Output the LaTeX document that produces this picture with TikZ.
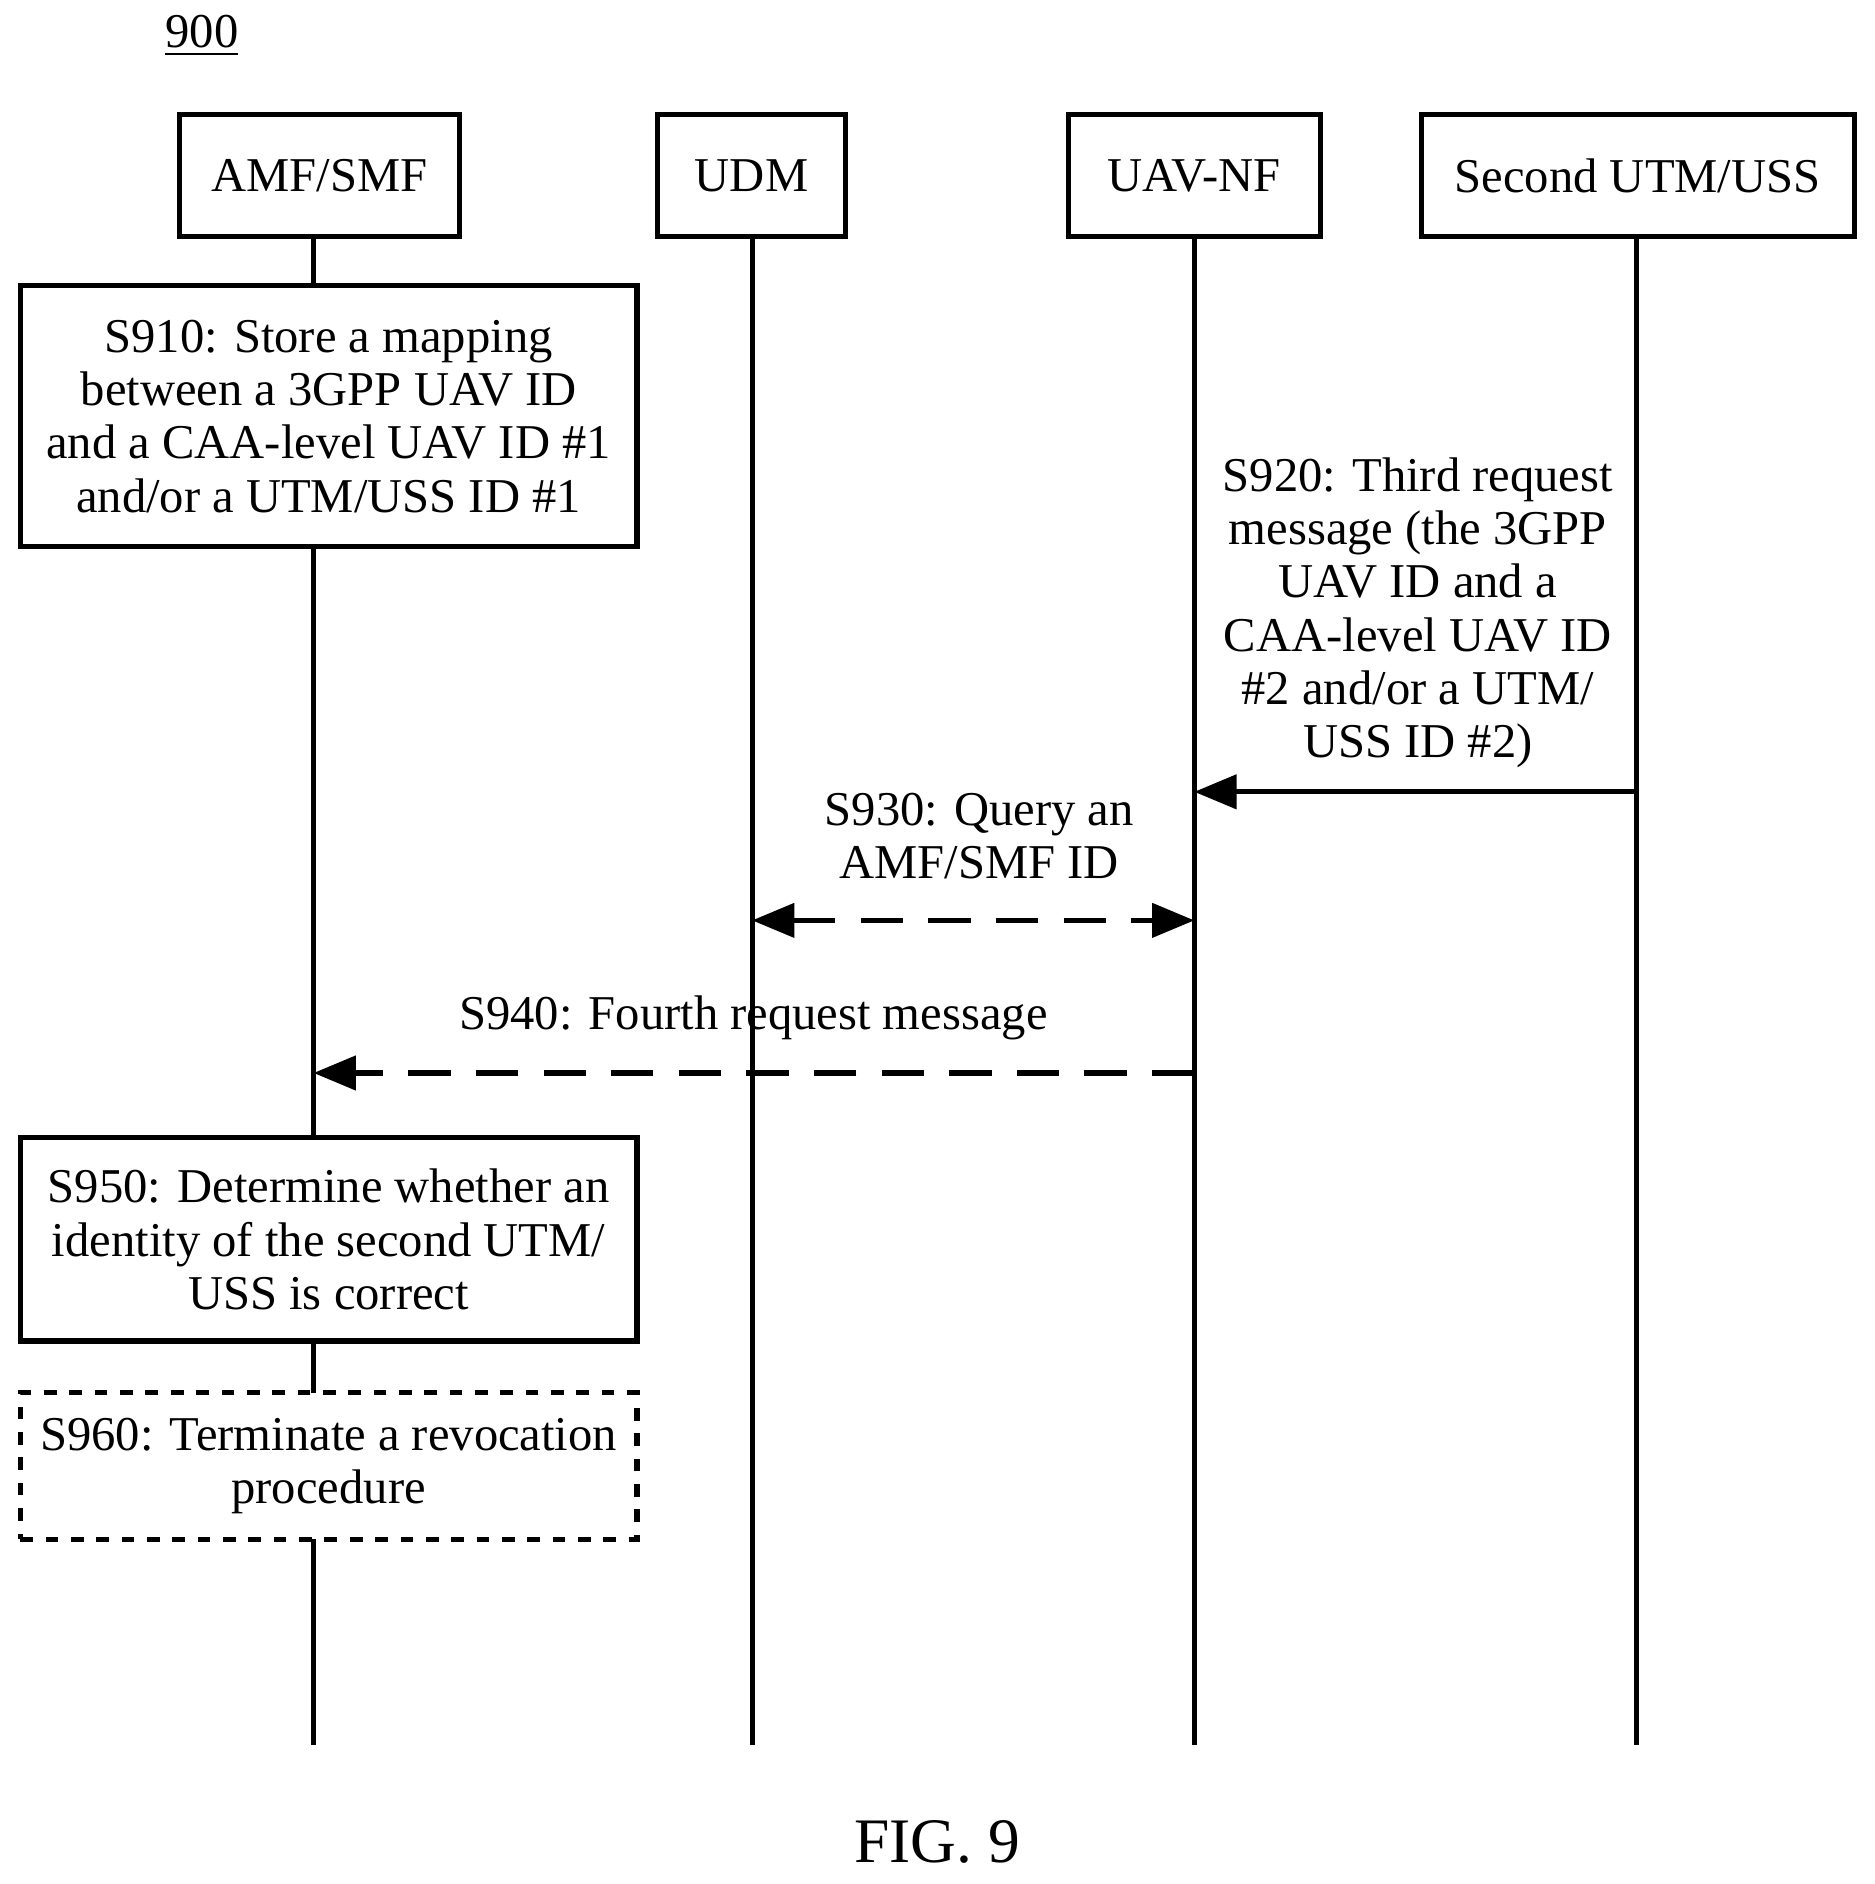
\documentclass[tikz,border=0pt]{standalone}
\usepackage{fontspec}
\setmainfont{Liberation Serif}
\usetikzlibrary{arrows.meta}

\tikzset{
  ent/.style={draw, line width=1.2pt, fill=white, minimum height=1.02cm, inner sep=0pt},
  stepbox/.style={draw, line width=1.2pt, fill=white, minimum width=5.13cm, align=center, inner sep=0pt},
  life/.style={line width=1.2pt},
  msg/.style={line width=1.2pt, -{Triangle[length=10pt,width=8pt]}},
  lbl/.style={align=center, font=\fontsize{11.5}{12.6}\selectfont}
}

\begin{document}
\begin{tikzpicture}[x=0.01cm, y=-0.01cm, font=\fontsize{11.5}{12.6}\selectfont]
  \useasboundingbox (0,0) rectangle (1560,1568);

  % Entities
  \node[ent, minimum width=2.33cm] (amf) at (266,146) {AMF/SMF};
  \node[ent, minimum width=1.57cm] (udm) at (625.5,146) {UDM};
  \node[ent, minimum width=2.10cm] (nf) at (994,146) {UAV-NF};
  \node[ent, minimum width=3.60cm] (utm) at (1363,146) {Second UTM/USS};

  % Life lines
  \coordinate (amfEnd) at (261,1452);
  \coordinate (udmEnd) at (626,1452);
  \coordinate (nfEnd) at (994,1452);
  \coordinate (utmEnd) at (1362,1452);
  \draw[life] (261,197) -- (amfEnd);
  \draw[life] (626,197) -- (udmEnd);
  \draw[life] (994,197) -- (nfEnd);
  \draw[life] (1362,197) -- (utmEnd);

  % Steps on AMF/SMF
  \node[stepbox, minimum height=2.17cm] (s910) at (273.5,346.5)
    {S910: Store a mapping\\ between a 3GPP UAV ID\\ and a CAA-level UAV ID \#1\\ and/or a UTM/USS ID \#1};
  \node[stepbox, minimum height=1.69cm] (s950) at (273.5,1031.5)
    {S950: Determine whether an\\ identity of the second UTM/\\ USS is correct};
  \node[stepbox, dashed, minimum height=1.22cm] (s960) at (273.5,1220)
    {S960: Terminate a revocation\\ procedure};

  % Messages
  \coordinate (utm920) at (1362,659);
  \coordinate (nf920) at (994,659);
  \draw[msg] (utm920) -- (nf920);
  \node[lbl] at (1180,510) {S920: Third request\\ message (the 3GPP\\ UAV ID and a\\ CAA-level UAV ID\\ \#2 and/or a UTM/\\ USS ID \#2)};

  \coordinate (udm930) at (626,766);
  \coordinate (nf930) at (994,766);
  \draw[msg, dashed, dash pattern=on 10pt off 6pt, {Triangle[length=10pt,width=8pt]}-{Triangle[length=10pt,width=8pt]}] (udm930) -- (nf930);
  \node[lbl] at (815,696) {S930: Query an\\ AMF/SMF ID};

  \coordinate (nf940) at (994,893);
  \coordinate (amf940) at (261,893);
  \draw[msg, dashed, dash pattern=on 10pt off 6pt] (nf940) -- (amf940);
  \node[lbl] at (627,847) {S940: Fourth request message};

  % Labels
  \node (num) at (168,30) {\underline{900}};
  \node[font=\fontsize{15}{17}\selectfont] (fig) at (780,1533) {FIG. 9};
\end{tikzpicture}
\end{document}
